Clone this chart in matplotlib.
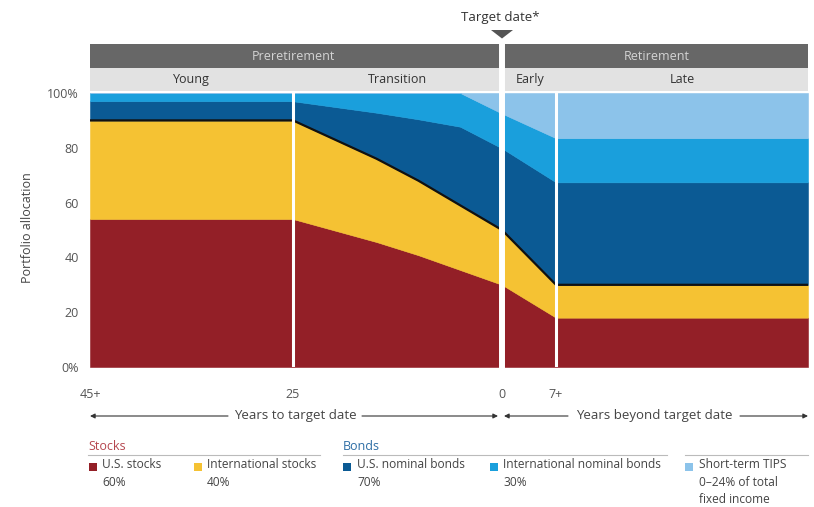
import numpy as np
import matplotlib
matplotlib.use('Agg')
import matplotlib.pyplot as plt
from matplotlib.patches import Rectangle, Polygon

plt.rcParams['font.family'] = ['Open Sans', 'DejaVu Sans']

# ---------------- data ----------------
# signed years relative to the target date (negative = before)
years = [-45, -25, -20, -15, -10, -5, 0, 7, 30]
us_stocks = [54, 54, 49.8, 45.6, 40.8, 35.4, 30, 18, 18]
intl_stocks = [36, 36, 33.2, 30.4, 27.2, 23.6, 20, 12, 12]
us_bonds = [7, 7, 11.9, 16.8, 22.4, 28.7, 29.8, 37.4, 37.4]
intl_bonds = [3, 3, 5.1, 7.2, 9.6, 12.3, 12.7, 16.1, 16.1]
tips = [0, 0, 0, 0, 0, 0, 7.5, 16.5, 16.5]

xtick_pos = [-45, -25, 0, 7]
xtick_labels = ['45+', '25', '0', '7+']
ytick_pos = [0, 20, 40, 60, 80, 100]
ytick_labels = ['0%', '20', '40', '60', '80', '100%']

phase_labels = ['Preretirement', 'Retirement']
stage_labels = ['Young', 'Transition', 'Early', 'Late']

legend_groups = ['Stocks', 'Bonds']
legend_items = ['U.S. stocks\n60%', 'International stocks\n40%',
                'U.S. nominal bonds\n70%', 'International nominal bonds\n30%',
                'Short-term TIPS\n0\u201324% of total\nfixed income']

colors = ['#931F27', '#F5C233', '#0B5A94', '#1A9FDC', '#8CC3EA']

# piecewise (non-uniform) horizontal scale of the original chart
brk_years = [-145, -45, -25, 0, 7, 30, 130]
brk_pos = [-1015, 0, 203, 412, 466, 718, 1814]


def fwd(x):
    return np.interp(x, brk_years, brk_pos)


def inv(p):
    return np.interp(p, brk_pos, brk_years)


W, H = 814, 507
fig = plt.figure(figsize=(W / 100, H / 100), dpi=100)
ax = fig.add_axes([90 / W, 140 / H, 718 / W, 274 / H])
ax.set_xscale('function', functions=(fwd, inv))


def fx(px):
    return px / W


def fy(py):
    return 1 - py / H


ax.stackplot(years, us_stocks, intl_stocks, us_bonds, intl_bonds, tips,
             colors=colors, edgecolor='face', linewidth=0.4)
ax.plot(years, np.add(us_stocks, intl_stocks), color='#111111', lw=1.6,
        solid_capstyle='butt', zorder=4)

ax.set_xlim(-45, 30)
ax.set_ylim(0, 100)
for s in ax.spines.values():
    s.set_visible(False)

ax.set_yticks(ytick_pos, ytick_labels)
ax.set_xticks(xtick_pos, xtick_labels)
ax.tick_params(axis='y', length=0, pad=8, labelsize=9, labelcolor='#555555')
ax.tick_params(axis='x', length=0, pad=15, labelsize=9, labelcolor='#555555')
ax.minorticks_off()

# white separators
ax.axvline(-25, color='white', lw=2.2, zorder=5)
ax.axvline(7, color='white', lw=2.2, zorder=5)
ax.axvline(0, ymin=0, ymax=1.179, color='white', lw=4.3, zorder=6, clip_on=False)

# header bars
ax.add_patch(Rectangle((0, 1.0912), 1, 0.0876, transform=ax.transAxes,
                       color='#676767', clip_on=False, zorder=3, lw=0))
ax.add_patch(Rectangle((0, 1.0091), 1, 0.0821, transform=ax.transAxes,
                       color='#E2E2E2', clip_on=False, zorder=3, lw=0))
for lab, xc in zip(phase_labels, [0.284, 0.789]):
    ax.text(xc, 1.135, lab, transform=ax.transAxes, ha='center', va='center',
            fontsize=9, color='#D4D4D4', zorder=7)
for lab, xc in zip(stage_labels, [0.1407, 0.4276, 0.6128, 0.8245]):
    ax.text(xc, 1.0505, lab, transform=ax.transAxes, ha='center', va='center',
            fontsize=9, color='#333333', zorder=7)

# target date marker
fig.text(fx(500), fy(17), 'Target date*', ha='center', va='center',
         fontsize=9.5, color='#333333')
fig.add_artist(Polygon([(fx(491), fy(30)), (fx(513), fy(30)), (fx(502), fy(38.5))],
                       closed=True, transform=fig.transFigure, color='#555555', lw=0))

# axis label
fig.text(fx(28), fy(228), 'Portfolio allocation', rotation=90, ha='center',
         va='center', fontsize=9, color='#444444')

# arrows row
arrow_kw = dict(arrowstyle='-|>', color='#333333', lw=0.8, mutation_scale=7,
                shrinkA=0, shrinkB=0)
for (x0, x1) in [(228, 90), (362, 498), (568, 504), (740, 808)]:
    ax.annotate('', xy=(fx(x1), fy(416)), xytext=(fx(x0), fy(416)),
                xycoords='figure fraction', textcoords='figure fraction',
                arrowprops=arrow_kw, annotation_clip=False)
fig.text(fx(295), fy(416), 'Years to target date', ha='center', va='center',
         fontsize=9.5, color='#444444')
fig.text(fx(654), fy(416), 'Years beyond target date', ha='center', va='center',
         fontsize=9.5, color='#444444')

# legend
fig.text(fx(88), fy(447), legend_groups[0], ha='left', va='center',
         fontsize=9, color='#B5474F')
fig.text(fx(343), fy(447), legend_groups[1], ha='left', va='center',
         fontsize=9, color='#2E6EA5')
for (x0, x1) in [(88, 320), (343, 667), (685, 808)]:
    fig.add_artist(plt.Line2D([fx(x0), fx(x1)], [fy(455), fy(455)],
                              color='#BBBBBB', lw=0.8, transform=fig.transFigure))
sq_x = [89, 194, 343, 490, 685]
tx_x = [102, 207, 357, 503, 699]
for c, lab, sx, tx in zip(colors, legend_items, sq_x, tx_x):
    fig.add_artist(Rectangle((fx(sx), fy(471)), 8 / W, 8 / H,
                             transform=fig.transFigure, color=c, lw=0))
    fig.text(fx(tx), fy(458), lab, ha='left', va='top', fontsize=8.6,
             color='#444444', linespacing=1.45)

fig.savefig('out.png', dpi=100)
